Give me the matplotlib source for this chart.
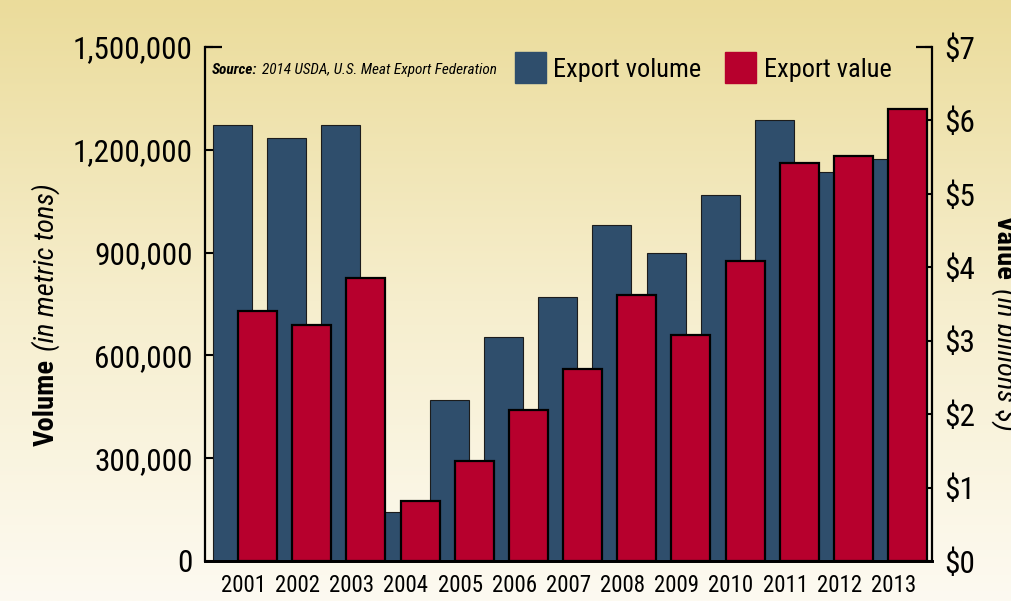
import numpy as np
import matplotlib
matplotlib.use('Agg')
import matplotlib.pyplot as plt
from matplotlib.transforms import IdentityTransform
from matplotlib.patches import Rectangle
from matplotlib.ticker import FixedLocator, FuncFormatter

years = ['2001', '2002', '2003', '2004', '2005', '2006', '2007',
         '2008', '2009', '2010', '2011', '2012', '2013']
volume = [1272000, 1234000, 1272000, 143000, 471000, 655000, 769000,
          982000, 898000, 1067000, 1287000, 1134000, 1172000]
value = [3.40, 3.21, 3.86, 0.82, 1.36, 2.05, 2.62, 3.62, 3.08, 4.08,
         5.42, 5.51, 6.15]
vol_ticks = [0, 300000, 600000, 900000, 1200000, 1500000]
val_ticks = [0, 1, 2, 3, 4, 5, 6, 7]

BLUE = '#2F4E6C'
RED = '#B7002D'
FONT = ['Roboto Condensed', 'Archivo Narrow', 'Liberation Sans Narrow', 'DejaVu Sans']
plt.rcParams['font.family'] = FONT

W, H = 1012, 601
fig = plt.figure(figsize=(W / 100, H / 100), dpi=100)

# background gradient
bg = fig.add_axes([0, 0, 1, 1], zorder=-10)
ys = np.linspace(0, 1, 300)
top = np.array([235, 220, 155]) / 255
mid = np.array([246, 238, 205]) / 255
bot = np.array([253, 250, 241]) / 255
cols = np.where(ys[:, None] < 0.5,
                top + (mid - top) * (ys[:, None] / 0.5),
                mid + (bot - mid) * ((ys[:, None] - 0.5) / 0.5))
grad = np.repeat(cols[:, None, :], 2, axis=1)
bg.imshow(grad, aspect='auto', extent=[0, 1, 0, 1])
bg.axis('off')

ax = fig.add_axes([205 / W, 40 / H, (932 - 205) / W, (561 - 47) / H])
ax.patch.set_alpha(0)
ax2 = ax.twinx()

x = np.arange(len(years))
ax.bar(x - 0.46, volume, width=0.72, color=BLUE, edgecolor='#1c1c1c',
       linewidth=0.8, zorder=2)
ax2.bar(x, value, width=0.72, color=RED, edgecolor='black',
        linewidth=1.6, zorder=2)

ax.set_xlim(-0.97, 12.45)
ax.set_ylim(0, 1500000)
ax2.set_ylim(0, 7)

ax.yaxis.set_major_locator(FixedLocator(vol_ticks))
ax.yaxis.set_major_formatter(FuncFormatter(lambda v, p: f'{int(v):,}'))
ax2.yaxis.set_major_locator(FixedLocator(val_ticks))
ax2.yaxis.set_major_formatter(FuncFormatter(lambda v, p: f'${int(v)}'))

ax.set_xticks(x - 0.26)
ax.set_xticklabels(years)
ax.tick_params(axis='x', length=0, labelsize=16.5, pad=9)
ax.tick_params(axis='y', direction='in', length=5.5, width=1.5,
               labelsize=22.5, pad=9)
ax2.tick_params(axis='y', direction='in', length=5.0, width=1.5,
                labelsize=22.5, pad=9)

for a in (ax, ax2):
    a.spines['top'].set_visible(False)
ax.spines['right'].set_visible(False)
ax.spines['left'].set_linewidth(1.6)
ax.spines['bottom'].set_linewidth(2.0)
ax2.spines['left'].set_visible(False)
ax2.spines['bottom'].set_linewidth(2.0)
ax2.spines['right'].set_linewidth(1.6)

# top bracket caps
ax.plot([0, 17 / 727], [1, 1], transform=ax.transAxes, color='black',
        lw=1.6, clip_on=False, solid_capstyle='butt')
ax2.plot([1 - 16 / 727, 1], [1, 1], transform=ax2.transAxes, color='black',
         lw=1.6, clip_on=False, solid_capstyle='butt')

# legend
fig.add_artist(Rectangle((515 / W, (H - 83) / H), 31 / W, 31 / H,
                         transform=fig.transFigure, color=BLUE))
fig.add_artist(Rectangle((725 / W, (H - 83) / H), 31 / W, 31 / H,
                         transform=fig.transFigure, color=RED))
fig.text(553 / W, (H - 77) / H, 'Export volume', fontsize=19,
         ha='left', va='baseline')
fig.text(764 / W, (H - 77) / H, 'Export value', fontsize=19,
         ha='left', va='baseline')

renderer = fig.canvas.get_renderer()


def runs(x0, y0, parts, rotation=0):
    xx, yy = x0, y0
    for s, kw, gap in parts:
        t = fig.text(xx, yy, s, transform=IdentityTransform(),
                     rotation=rotation, rotation_mode='anchor',
                     ha='left', va='baseline', **kw)
        bb = t.get_window_extent(renderer)
        if rotation == 0:
            xx += bb.width + gap
        elif rotation == 90:
            yy += bb.height + gap
        else:
            yy -= bb.height + gap


runs(212, H - 74, [('Source:', dict(fontsize=11, fontweight='black',
                                     fontstyle='italic'), 4),
                   ('2014 USDA, U.S. Meat Export Federation',
                    dict(fontsize=11, fontstyle='italic'), 0)])

runs(54, H - 446, [('Volume', dict(fontsize=20.5, fontweight='black'), 8),
                   ('(in metric tons)', dict(fontsize=20.5, fontstyle='italic'), 0)],
     rotation=90)

runs(997, H - 215, [('Value', dict(fontsize=20.5, fontweight='black'), 8),
                    ('(in billions $)', dict(fontsize=20.5, fontstyle='italic'), 0)],
     rotation=-90)

fig.savefig('out.png', dpi=100)
